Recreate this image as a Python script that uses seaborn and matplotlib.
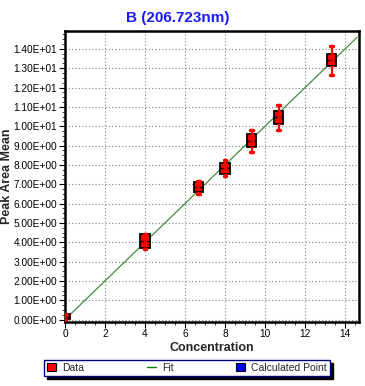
import matplotlib
matplotlib.use("Agg")
import matplotlib.pyplot as plt
import matplotlib.ticker as mticker
from matplotlib.patches import Patch
from matplotlib.lines import Line2D
import numpy as np
import pandas as pd
import seaborn as sns

# ----------------------------------------------------------
# Data
# ----------------------------------------------------------

concentrations = [0.0, 4.0, 6.67, 8.0, 9.33, 10.67, 13.33]

replicates = [
    [0.00, 0.02, 0.12, 0.27, 0.30],
    [3.64, 3.69, 4.05, 4.42, 4.45],
    [6.50, 6.62, 6.85, 7.11, 7.19],
    [7.40, 7.55, 7.85, 8.09, 8.26],
    [8.66, 8.92, 9.25, 9.61, 9.78],
    [9.82, 10.11, 10.45, 10.80, 11.08],
    [12.67, 13.13, 13.40, 13.74, 14.13],
]

fit_slope = 1.0
fit_intercept = 0.0
fit_x_end = 14.6

title = "B (206.723nm)"
legend_labels = ["Data", "Fit", "Calculated Point"]

rows = []
for c, vals in zip(concentrations, replicates):
    for v in vals:
        rows.append({"Concentration": c, "Value": v})
df = pd.DataFrame(rows)

# ----------------------------------------------------------
# Figure
# ----------------------------------------------------------

sns.set_style("white")
plt.rcParams["font.family"] = ["Liberation Sans", "DejaVu Sans"]

fig = plt.figure(figsize=(3.65, 3.86), dpi=100)
ax = fig.add_axes([0.178, 0.1666, 0.806, 0.752])

ax.grid(True, color="#808080", linestyle=(0, (1, 2)), linewidth=0.8)
ax.set_axisbelow(True)

fx = np.linspace(0, fit_x_end, 50)
ax.plot(fx, fit_slope * fx + fit_intercept, color="#3f8f3f", linewidth=0.9, zorder=2)

sns.boxplot(
    data=df,
    x="Concentration",
    y="Value",
    native_scale=True,
    width=0.35,
    color="#ff0000",
    saturation=1,
    linecolor="black",
    linewidth=1.3,
    whis=3,
    showfliers=False,
    whiskerprops={"color": "#ff0000", "linewidth": 1.6},
    capprops={"color": "#ff0000", "linewidth": 2.5},
    medianprops={"color": "black", "linewidth": 1.0},
    capwidths=0.14,
    ax=ax,
    zorder=3,
)

ax.scatter(df["Concentration"], df["Value"], marker="_", color="#ff0000",
           s=10, linewidths=1.0, zorder=4)

ax.set_xlim(0, 14.7)
ax.set_ylim(-0.11, 14.9)

ax.xaxis.set_major_locator(mticker.MultipleLocator(2))
ax.xaxis.set_minor_locator(mticker.MultipleLocator(0.5))
ax.yaxis.set_major_locator(mticker.MultipleLocator(1))
ax.yaxis.set_minor_locator(mticker.MultipleLocator(0.25))
ax.yaxis.set_major_formatter(mticker.FuncFormatter(lambda v, p: "{:.2E}".format(v)))
ax.xaxis.set_major_formatter(mticker.FuncFormatter(lambda v, p: "{:g}".format(v)))

ax.tick_params(which="major", direction="out", length=4.5, width=0.8,
               labelsize=7.3, colors="black", pad=1, left=True, bottom=True)
ax.tick_params(which="minor", direction="out", length=2.5, width=0.6,
               left=True, bottom=True)

for side in ["left", "bottom", "top", "right"]:
    ax.spines[side].set_visible(True)
    ax.spines[side].set_color("black")
    ax.spines[side].set_linewidth(1.8)

ax.set_xlabel("Concentration", fontsize=9, fontweight="bold", labelpad=2)
ax.set_ylabel("Peak Area Mean", fontsize=9, fontweight="bold")
ax.yaxis.set_label_coords(-0.178, 0.5)
fig.text(178 / 365, 1 - 18 / 386, title, fontsize=11, fontweight="bold",
         color="#1a1aff", ha="center", va="center")

handles = [
    Patch(facecolor="#ff0000", edgecolor="black", linewidth=0.8),
    Line2D([0], [0], color="#008000", linewidth=1.0),
    Patch(facecolor="#0000ff", edgecolor="black", linewidth=0.8),
]
leg = fig.legend(
    handles, legend_labels,
    loc="lower left",
    bbox_to_anchor=(44 / 365, 1 - 376 / 386, (330 - 44) / 365, 15 / 386),
    mode="expand",
    borderaxespad=0,
    ncol=3,
    fontsize=7.5,
    handlelength=0.85,
    handleheight=0.85,
    handletextpad=0.6,
    borderpad=0.3,
    fancybox=False,
    shadow={"color": "black", "alpha": 1},
    framealpha=1,
)
leg.get_frame().set_edgecolor("#000080")
leg.get_frame().set_linewidth(1.0)

fig.savefig("out.png", dpi=100)
